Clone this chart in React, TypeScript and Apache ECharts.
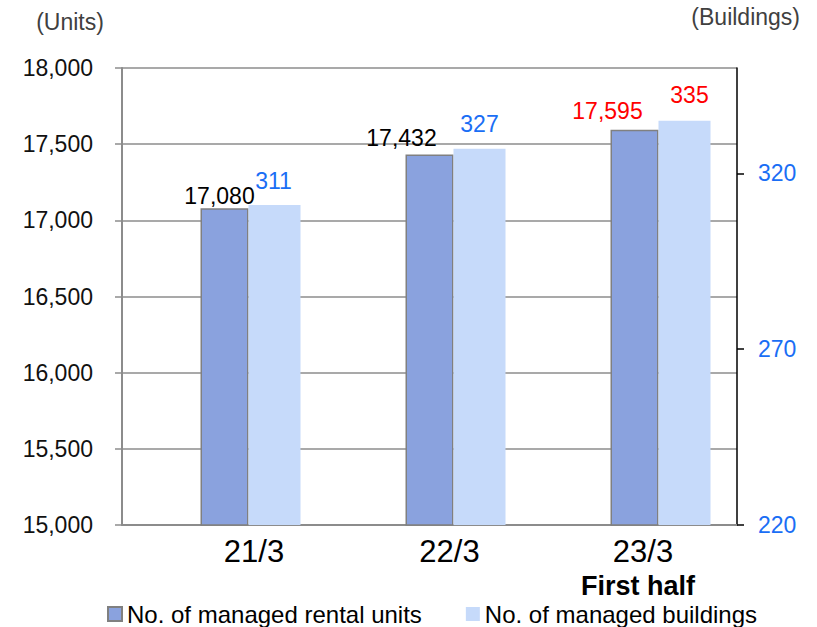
import React, { useEffect, useRef } from "react";
import * as echarts from "echarts";

// Fiscal periods on the category axis
const periods = ["21/3", "22/3", "23/3"];
const periodNotes = ["", "", "First half"];

// Managed rental units (left axis) and managed buildings (right axis)
const rentalUnits = [17080, 17432, 17595];
const buildings = [311, 327, 335];

// Left axis (units)
const unitsMin = 15000;
const unitsMax = 18000;
const unitsStep = 500;

// Right axis (buildings)
const buildingsMin = 220;
const buildingsMax = 350;
const buildingTicks = [220, 270, 320];

// The latest period is highlighted in red
const highlightIndex = 2;

const FONT = "'Liberation Sans', Arial, Helvetica, sans-serif";
const BLUE = "#1a6ef5";
const RED = "#ff0000";

// Per-point nudges for the value labels [dx, dy]
const unitLabelNudge = [
  [-5, -1],
  [-28, -5],
  [-27, -7],
];
const buildingLabelNudge = [
  [-1, -13],
  [0, -13],
  [5, -14],
];

// Horizontal shift of each period label (left padding, px)
const periodShift = [59, 40, 17];

export default function App() {
  const ref = useRef<HTMLDivElement>(null);

  useEffect(() => {
    if (!ref.current) return;
    const chart = echarts.init(ref.current, null, { renderer: "svg" });

    const rich: Record<string, any> = {};
    periods.forEach((_, i) => {
      rich["p" + i] = {
        fontSize: 31,
        fontFamily: FONT,
        color: "#000",
        lineHeight: 36,
        padding: [0, 0, 0, periodShift[i]],
      };
    });
    rich.note = {
      fontSize: 27,
      fontWeight: "bold",
      fontFamily: FONT,
      color: "#000",
      lineHeight: 34,
      padding: [0, 0, 0, 7],
    };

    const option: echarts.EChartsOption = {
      animation: false,
      backgroundColor: "#fff",
      grid: { left: 122, right: 80, top: 68, bottom: 102, containLabel: false },
      graphic: [
        {
          type: "text",
          x: 70,
          y: 22,
          style: {
            text: "(Units)",
            fontSize: 23,
            fontFamily: FONT,
            fill: "#404040",
            textAlign: "center",
            textVerticalAlign: "middle",
          },
        },
        {
          type: "text",
          x: 800,
          y: 17,
          style: {
            text: "(Buildings)",
            fontSize: 23,
            fontFamily: FONT,
            fill: "#404040",
            textAlign: "right",
            textVerticalAlign: "middle",
          },
        },
      ],
      legend: {
        data: ["No. of managed rental units", "No. of managed buildings"],
        left: 102,
        top: 597,
        icon: "rect",
        itemWidth: 14,
        itemHeight: 14,
        itemGap: 44,
        textStyle: { fontSize: 24, fontFamily: FONT, color: "#000" },
      },
      xAxis: {
        type: "category",
        data: periods,
        axisLine: { lineStyle: { color: "#8c8c8c", width: 2 } },
        axisTick: { show: false },
        axisLabel: {
          margin: 8,
          interval: 0,
          formatter: (value: string, idx: number) => {
            const note = periodNotes[idx];
            return note ? `{p${idx}|${value}}\n{note|${note}}` : `{p${idx}|${value}}`;
          },
          rich,
        },
      },
      yAxis: [
        {
          type: "value",
          min: unitsMin,
          max: unitsMax,
          interval: unitsStep,
          position: "left",
          axisLine: { show: true, lineStyle: { color: "#8c8c8c", width: 2 } },
          axisTick: { show: true, length: 7, lineStyle: { color: "#8c8c8c", width: 1.5 } },
          splitLine: { lineStyle: { color: "#8c8c8c", width: 1.5 } },
          axisLabel: {
            margin: 29,
            fontSize: 23,
            fontFamily: FONT,
            color: "#111",
            formatter: (v: number) => v.toLocaleString("en-US"),
          },
        },
        {
          type: "value",
          min: buildingsMin,
          max: buildingsMax,
          position: "right",
          axisLine: { show: true, lineStyle: { color: "#000", width: 1.5 } },
          axisTick: {
            show: true,
            length: 7,
            lineStyle: { color: "#000", width: 1.5 },
            customValues: buildingTicks,
          },
          splitLine: { show: false },
          axisLabel: {
            margin: 21,
            fontSize: 23,
            fontFamily: FONT,
            color: BLUE,
            customValues: buildingTicks,
          },
        },
      ],
      series: [
        {
          // empty slot that keeps the unit bars centred on each period
          name: "spacer",
          type: "bar",
          yAxisIndex: 0,
          barWidth: 52,
          barGap: 0,
          data: periods.map(() => null),
          silent: true,
        },
        {
          name: "No. of managed rental units",
          type: "bar",
          yAxisIndex: 0,
          barWidth: 48,
          barGap: 0,
          itemStyle: { color: "#8aa2de", borderColor: "#808080", borderWidth: 1.5 },
          data: rentalUnits.map((v, i) => ({
            value: v,
            label: {
              show: true,
              position: "top",
              distance: 0,
              offset: unitLabelNudge[i],
              fontSize: 23,
              fontFamily: FONT,
              color: i === highlightIndex ? RED : "#000",
              formatter: (p: any) => Number(p.value).toLocaleString("en-US"),
            },
          })),
        },
        {
          name: "No. of managed buildings",
          type: "bar",
          yAxisIndex: 1,
          barWidth: 52,
          barGap: 0,
          itemStyle: { color: "#c6dafa" },
          data: buildings.map((v, i) => ({
            value: v,
            label: {
              show: true,
              position: "top",
              distance: 0,
              offset: buildingLabelNudge[i],
              fontSize: 23,
              fontFamily: FONT,
              color: i === highlightIndex ? RED : BLUE,
            },
          })),
        },
      ],
    };

    chart.setOption(option);
    return () => chart.dispose();
  }, []);

  return (
    <div
      ref={ref}
      style={{ position: "fixed", left: 0, top: 0, width: 817, height: 627, background: "#fff" }}
    />
  );
}
